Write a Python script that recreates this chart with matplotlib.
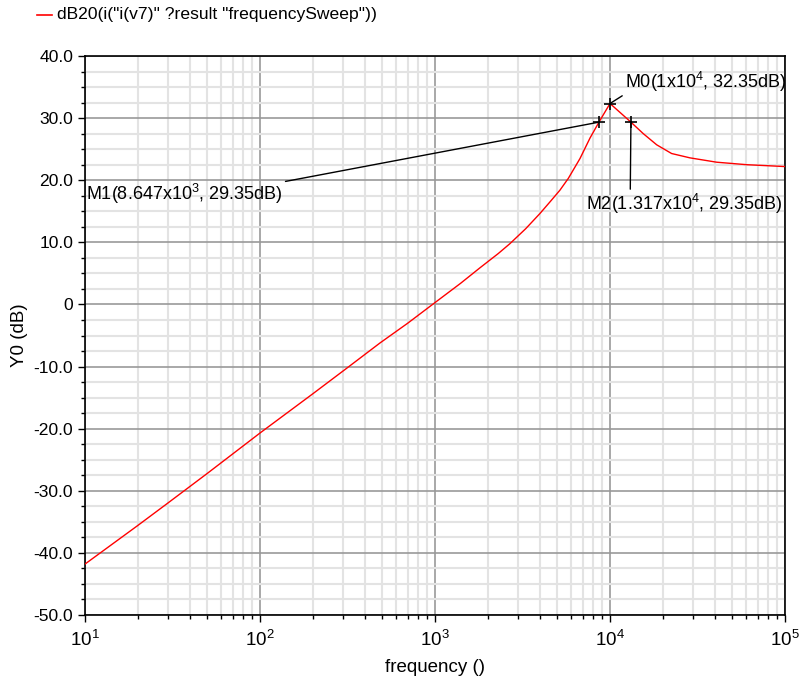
import math
import matplotlib
matplotlib.use("Agg")
import matplotlib.pyplot as plt
from matplotlib.ticker import LogLocator, MultipleLocator, NullFormatter, FuncFormatter

plt.rcParams['font.family'] = ['Liberation Sans', 'DejaVu Sans']
plt.rcParams['mathtext.fontset'] = 'custom'
plt.rcParams['mathtext.rm'] = 'Liberation Sans'
plt.rcParams['mathtext.it'] = 'Liberation Sans'
plt.rcParams['mathtext.bf'] = 'Liberation Sans'

# AC sweep: current magnitude in dB vs frequency
freq = [10, 20, 30, 50, 100, 200, 312, 485, 700, 1000, 1400, 1807, 2300,
        2683, 3300, 3981, 4600, 5176, 5780, 6740, 7690, 8647, 10000, 13170,
        15490, 18490, 22490, 28640, 40720, 60400, 100000]
db = [-41.8, -35.6, -31.9, -27.2, -20.7, -14.4, -10.3, -6.2, -3.0, 0.3,
      3.4, 5.9, 8.2, 9.8, 12.2, 14.65, 16.7, 18.4, 20.3, 23.5, 26.8, 29.35,
      32.35, 29.35, 27.5, 25.7, 24.3, 23.6, 22.9, 22.5, 22.2]

# markers
m_freq = [1e4, 8.647e3, 1.317e4]
m_db = [32.35, 29.35, 29.35]
m_text = ["M0(1x10$^4$, 32.35dB)", "M1(8.647x10$^3$, 29.35dB)",
          "M2(1.317x10$^4$, 29.35dB)"]

legend_label = 'dB20(i("i(v7)" ?result "frequencySweep"))'

W, H = 802, 679
fig = plt.figure(figsize=(W / 100, H / 100), dpi=100)
ax = fig.add_axes([85 / W, 1 - 615 / H, 700 / W, 559 / H])

ax.plot(freq, db, color='#ff0000', lw=1.0, zorder=3)
ax.set_xscale('log')
ax.set_xlim(10, 1e5)
ax.set_ylim(-50, 40)

major_c = '#999999'
minor_c = '#e3e3e3'
ax.xaxis.set_major_locator(LogLocator(base=10, numticks=10))
ax.xaxis.set_minor_locator(LogLocator(base=10, subs=range(2, 10), numticks=50))
ax.xaxis.set_minor_formatter(NullFormatter())
ax.xaxis.set_major_formatter(FuncFormatter(lambda v, p: r"10$^{%d}$" % round(math.log10(v))))
ax.yaxis.set_major_locator(MultipleLocator(10))
ax.yaxis.set_minor_locator(MultipleLocator(2.5))
ax.yaxis.set_major_formatter(FuncFormatter(lambda v, p: "0" if abs(v) < 1e-9 else "%.1f" % v))

ax.grid(which='minor', color=minor_c, lw=1.5, zorder=0)
ax.grid(which='major', color=major_c, lw=1.2, zorder=1)
ax.set_axisbelow(True)

ax.tick_params(which='major', direction='out', length=5, width=1, labelsize=12.6, colors='black')
ax.tick_params(which='minor', direction='out', length=3, width=1)
ax.tick_params(axis='x', which='major', labelsize=13.5, pad=6)
for s in ax.spines.values():
    s.set_color('black')
    s.set_linewidth(1.2)

ax.set_xlabel("frequency ()", fontsize=13.5, labelpad=6)
ax.set_ylabel("Y0 (dB)", fontsize=13.5, labelpad=4)

# markers and their labels
ax.plot(m_freq, m_db, linestyle='none', marker='+', color='black', ms=9, mew=1.2, zorder=5)
fs = 13
arrow = dict(arrowstyle='-', color='black', lw=1, shrinkA=0, shrinkB=0)
ax.annotate(m_text[0], xy=(m_freq[0], m_db[0]), xytext=(625, H - 82), textcoords='figure pixels',
            fontsize=fs, ha='left', va='center',
            arrowprops=dict(arrow, relpos=(0, 0)), annotation_clip=False)
ax.annotate(m_text[1], xy=(m_freq[1], m_db[1]), xytext=(86, H - 194), textcoords='figure pixels',
            fontsize=fs, ha='left', va='center',
            arrowprops=dict(arrow, relpos=(1, 1)), annotation_clip=False)
ax.annotate(m_text[2], xy=(m_freq[2], m_db[2]), xytext=(586, H - 204), textcoords='figure pixels',
            fontsize=fs, ha='left', va='center',
            arrowprops=dict(arrow, relpos=(0.225, 1)), annotation_clip=False)

# legend entry at top
fig.lines.append(plt.Line2D([37 / W, 52 / W], [1 - 15 / H, 1 - 15 / H], color='#ff0000', lw=1.2,
                            transform=fig.transFigure))
fig.text(57 / W, 1 - 15 / H, legend_label, fontsize=12.6, ha='left', va='center')

fig.savefig("out.png", dpi=100)
